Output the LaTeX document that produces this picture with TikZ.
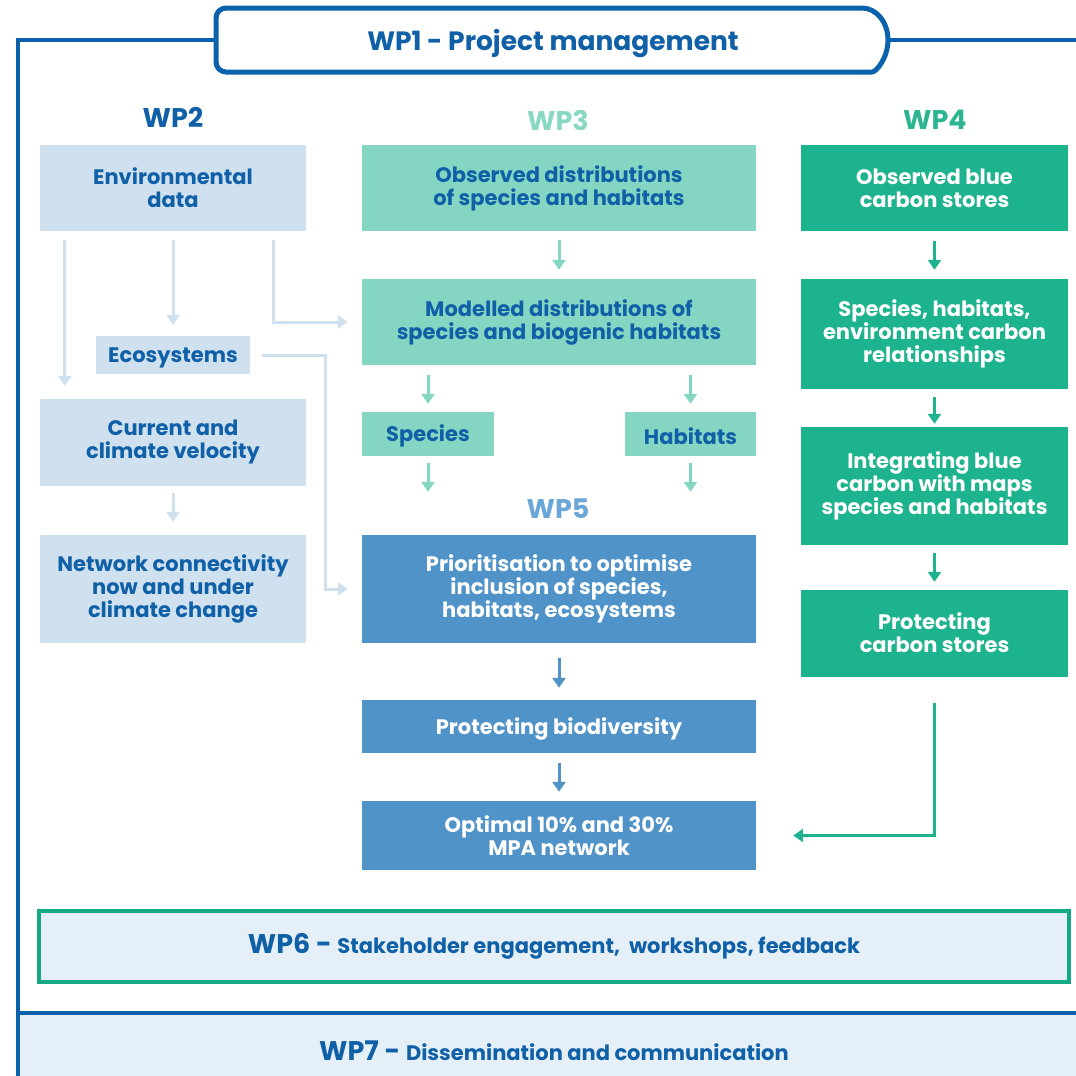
\documentclass[tikz,border=0pt]{standalone}
\usepackage{fontspec}
\setmainfont{Poppins}
\usetikzlibrary{arrows.meta,calc}

\definecolor{framecol}{HTML}{0B62AC}
\definecolor{txtblue}{HTML}{1060A8}
\definecolor{wptwo}{HTML}{CFE0EF}
\definecolor{wpthree}{HTML}{84D6C2}
\definecolor{wpthreelab}{HTML}{88D8C3}
\definecolor{wpfour}{HTML}{1EB38F}
\definecolor{wpfourlab}{HTML}{2DB592}
\definecolor{wpfive}{HTML}{4F93C8}
\definecolor{wpfivelab}{HTML}{6AA7D8}
\definecolor{wpsix}{HTML}{13A984}
\definecolor{pale}{HTML}{E4EFF7}

\tikzset{
  box/.style={minimum width=#1, inner sep=0pt, align=center,
    font=\fontsize{21}{23}\selectfont\bfseries,
    execute at begin node={\rule{0pt}{21.5pt}}},
  boxtwo/.style={box=266pt, fill=wptwo, text=txtblue},
  boxthree/.style={box=394pt, fill=wpthree, text=txtblue},
  boxfour/.style={box=267pt, fill=wpfour, text=white},
  boxfive/.style={box=394pt, fill=wpfive, text=white},
  wplabel/.style={font=\fontsize{27}{30}\selectfont\bfseries},
  arr/.style={line width=3pt, -{Triangle[width=13pt,length=10pt]}},
}

\begin{document}
\begin{tikzpicture}[x=1pt,y=-1pt]
\useasboundingbox (0,0) rectangle (1076,1076);

% frame and WP7 band
\fill[pale] (18,1013) rectangle (1076,1076);
\draw[framecol, line width=4pt] (1076,1013) -- (18,1013);
\draw[framecol, line width=4pt] (18,1076) -- (18,40) -- (1076,40);

% WP1
\filldraw[framecol, line width=5pt, fill=white, rounded corners=10]
  (862,8) -- (216,8) -- (216,72) -- (862,72) [sharp corners]
  arc[start angle=90, end angle=-90, x radius=26, y radius=32] -- cycle;
\node[text=txtblue, font=\fontsize{26.5}{30}\selectfont\bfseries] (wp1) at (553,44) {WP1 - Project management};

% column labels
\node[wplabel, text=txtblue] (wp2) at (173,117) {WP2};
\node[wplabel, text=wpthreelab] (wp3) at (558,120) {WP3};
\node[wplabel, text=wpfourlab] (wp4) at (935,120) {WP4};
\node[wplabel, text=wpfivelab] (wp5) at (558,509) {WP5};

% WP2
\node[boxtwo, minimum height=86pt] (env) at (173,188) {Environmental\\data};
\node[boxtwo, minimum width=154pt, minimum height=38pt] (eco) at (173,355) {Ecosystems};
\node[boxtwo, minimum height=87pt] (curr) at (173,442.5) {Current and\\climate velocity};
\node[boxtwo, minimum height=108pt] (net) at (173,589) {Network connectivity\\now and under\\climate change};

% WP3
\node[boxthree, minimum height=86pt] (obs) at (559,188) {Observed distributions\\of species and habitats};
\node[boxthree, minimum height=86pt] (mod) at (559,322) {Modelled distributions of\\species and biogenic habitats};
\node[boxthree, minimum width=132pt, minimum height=44pt] (spec) at (428,434) {Species};
\node[boxthree, minimum width=131pt, minimum height=44pt] (hab) at (690.5,434) {Habitats};

% WP4
\node[boxfour, minimum height=86pt] (carb1) at (934.5,188) {Observed blue\\carbon stores};
\node[boxfour, minimum height=110pt] (carb2) at (934.5,334) {Species, habitats,\\environment carbon\\relationships};
\node[boxfour, minimum height=118pt] (carb3) at (934.5,486) {Integrating blue\\carbon with maps\\species and habitats};
\node[boxfour, minimum height=87pt] (carb4) at (934.5,633.5) {\\[-8pt]Protecting\\carbon stores};

% WP5
\node[boxfive, minimum height=108pt] (prio) at (559,589) {Prioritisation to optimise\\inclusion of species,\\habitats, ecosystems};
\node[boxfive, minimum height=53pt] (bio) at (559,726.5) {Protecting biodiversity};
\node[boxfive, minimum height=69pt] (opt) at (559,835.5) {Optimal 10\% and 30\%\\MPA network};

% WP6
\node[draw=wpsix, line width=4pt, fill=pale, minimum width=1030pt, minimum height=71pt, text=txtblue] (wp6) at (554,946.5)
  {\fontsize{27}{30}\selectfont\bfseries WP6 - \fontsize{21}{23}\selectfont Stakeholder engagement,\ \ workshops, feedback};
\node[text=txtblue] (wp7) at (554,1051)
  {\fontsize{27}{30}\selectfont\bfseries WP7 - \fontsize{21}{23}\selectfont Dissemination and communication};

% WP2 arrows
\draw[arr, wptwo, shorten <=9pt, shorten >=13pt] ($(env.south west)+(25,0)$) -- ($(curr.north west)+(25,0)$);
\draw[arr, wptwo, shorten <=9pt, shorten >=11pt] (env.south) -- (eco.north);
\draw[arr, wptwo, shorten <=9pt, shorten >=14pt] ($(env.south east)+(-33,0)$) |- (mod.west);
\draw[arr, wptwo, shorten <=12pt, shorten >=14pt] (eco.east) -- ($(eco.east)+(75,0)$) |- (prio.west);
\draw[arr, wptwo, shorten <=7pt, shorten >=13pt] (curr.south) -- (net.north);

% WP3 arrows
\draw[arr, wpthree, shorten <=9pt, shorten >=9pt] (obs.south) -- (mod.north);
\draw[arr, wpthree, shorten <=10pt, shorten >=8pt] (spec.north |- mod.south) -- (spec.north);
\draw[arr, wpthree, shorten <=10pt, shorten >=8pt] (hab.north |- mod.south) -- (hab.north);
\draw[arr, wpthree, shorten <=7pt, shorten >=43pt] (spec.south) -- (spec.south |- prio.north);
\draw[arr, wpthree, shorten <=7pt, shorten >=43pt] (hab.south) -- (hab.south |- prio.north);

% WP4 arrows
\draw[arr, wpfour, shorten <=10pt, shorten >=9pt] (carb1.south) -- (carb2.north);
\draw[arr, wpfour, shorten <=8pt, shorten >=3pt] (carb2.south) -- (carb3.north);
\draw[arr, wpfour, shorten <=8pt, shorten >=8pt] (carb3.south) -- (carb4.north);
\draw[arr, wpfour, shorten <=26pt, shorten >=37pt] (carb4.south) |- (opt.east);

% WP5 arrows
\draw[arr, wpfive, shorten <=15pt, shorten >=12pt] (prio.south) -- (bio.north);
\draw[arr, wpfive, shorten <=10pt, shorten >=9pt] (bio.south) -- (opt.north);
\end{tikzpicture}
\end{document}
